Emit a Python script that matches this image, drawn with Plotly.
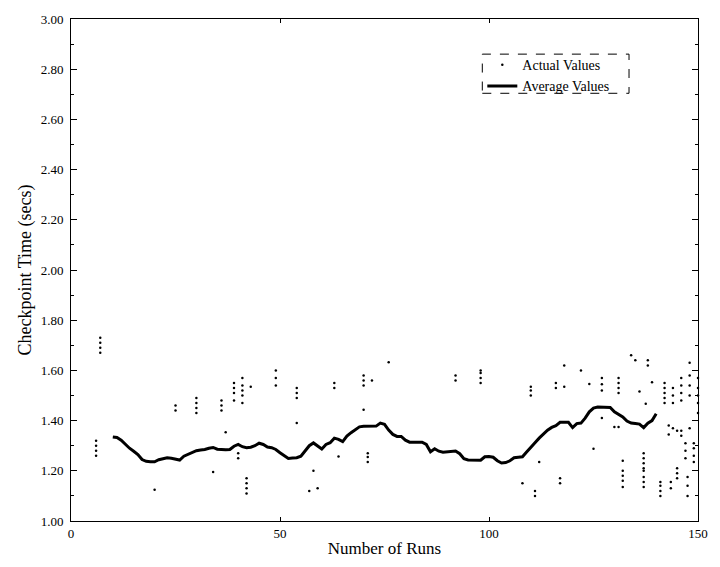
import plotly.graph_objects as go

# Average values (moving average), runs 10..140
avg_runs = list(range(10, 141))
avg_values = [
    1.335, 1.333, 1.322, 1.305, 1.290, 1.278, 1.265, 1.245, 1.238, 1.236, 1.236,
    1.244, 1.249, 1.252, 1.250, 1.245, 1.243, 1.258, 1.265, 1.270, 1.280,
    1.283, 1.285, 1.290, 1.293, 1.286, 1.284, 1.284, 1.285, 1.298, 1.305,
    1.296, 1.292, 1.294, 1.300, 1.310, 1.305, 1.295, 1.292, 1.285, 1.272,
    1.260, 1.249, 1.251, 1.252, 1.258, 1.278, 1.300, 1.311, 1.298, 1.287,
    1.305, 1.312, 1.330, 1.325, 1.316, 1.338, 1.352, 1.362, 1.375, 1.377,
    1.377, 1.377, 1.378, 1.390, 1.385, 1.362, 1.345, 1.337, 1.337, 1.322,
    1.314, 1.314, 1.314, 1.314, 1.305, 1.276, 1.288, 1.278, 1.274, 1.275,
    1.277, 1.279, 1.268, 1.248, 1.243, 1.242, 1.242, 1.242, 1.256, 1.257,
    1.254, 1.240, 1.231, 1.233, 1.240, 1.252, 1.254, 1.256, 1.275, 1.295,
    1.312, 1.330, 1.348, 1.362, 1.373, 1.380, 1.393, 1.394, 1.393, 1.372,
    1.388, 1.390, 1.410, 1.435, 1.450, 1.454, 1.454, 1.454, 1.452, 1.435,
    1.425, 1.415, 1.398, 1.390, 1.388, 1.386, 1.372, 1.390, 1.400, 1.427,
]

# Actual values: visible measurement dots (run, seconds)
actual_runs = [
    6, 6, 6, 6,
    7, 7, 7, 7,
    20, 25, 25,
    30, 30, 30, 30,
    34, 36, 36, 36, 37,
    39, 39, 39, 39, 40, 40,
    41, 41, 41, 41, 41,
    42, 42, 42, 42, 43,
    49, 49, 49,
    54, 54, 54, 54,
    57, 58, 59, 63, 63, 64,
    70, 70, 70, 70, 71, 71, 71, 72, 76,
    92, 92,
    98, 98, 98, 98,
    108, 110, 110, 110, 111, 111, 112,
    116, 116, 117, 117, 118, 118, 122, 124, 125,
    127, 127, 127, 127,
    130, 131, 131, 131, 131, 131,
    132, 132, 132, 132, 132,
    134, 135, 136,
    137, 137, 137, 137, 137, 137, 137, 137, 137.5,
    138, 138, 139,
    141, 141, 141, 141,
    142, 142, 142, 142, 142,
    143, 143, 143.5, 143.5,
    144, 144, 144, 144,
    145, 145, 145, 145,
    146, 146, 146, 146, 146, 146,
    147, 147, 147, 147.5, 147.5, 147.5,
    148, 148, 148, 148, 148,
    149, 149, 149, 149,
    150, 150, 150, 150, 150,
]
actual_values = [
    1.26, 1.28, 1.30, 1.32,
    1.67, 1.69, 1.71, 1.73,
    1.125, 1.44, 1.46,
    1.43, 1.45, 1.47, 1.49,
    1.195, 1.44, 1.46, 1.48, 1.354,
    1.48, 1.51, 1.53, 1.55, 1.25, 1.27,
    1.47, 1.50, 1.52, 1.54, 1.57,
    1.11, 1.13, 1.15, 1.17, 1.535,
    1.54, 1.57, 1.60,
    1.39, 1.49, 1.51, 1.53,
    1.12, 1.20, 1.13, 1.53, 1.55, 1.257,
    1.443, 1.54, 1.56, 1.58, 1.235, 1.255, 1.27, 1.56, 1.632,
    1.56, 1.58,
    1.55, 1.57, 1.59, 1.60,
    1.15, 1.50, 1.52, 1.535, 1.10, 1.12, 1.235,
    1.53, 1.55, 1.15, 1.17, 1.535, 1.62, 1.60, 1.546, 1.288,
    1.52, 1.545, 1.57, 1.41,
    1.375, 1.51, 1.53, 1.55, 1.57, 1.375,
    1.135, 1.16, 1.18, 1.20, 1.24,
    1.66, 1.64, 1.516,
    1.21, 1.23, 1.25, 1.27, 1.135, 1.155, 1.175, 1.20, 1.467,
    1.62, 1.64, 1.553,
    1.10, 1.12, 1.14, 1.155,
    1.47, 1.49, 1.51, 1.53, 1.55,
    1.345, 1.38, 1.13, 1.155,
    1.37, 1.47, 1.50, 1.53,
    1.17, 1.19, 1.21, 1.36,
    1.34, 1.36, 1.48, 1.51, 1.54, 1.57,
    1.25, 1.28, 1.31, 1.10, 1.14, 1.175,
    1.37, 1.50, 1.54, 1.58, 1.63,
    1.235, 1.26, 1.29, 1.31,
    1.43, 1.47, 1.50, 1.53, 1.57,
]

x_ticks = [0, 50, 100, 150]
y_ticks = [1.0, 1.2, 1.4, 1.6, 1.8, 2.0, 2.2, 2.4, 2.6, 2.8, 3.0]
y_tick_labels = ["1.00", "1.20", "1.40", "1.60", "1.80", "2.00", "2.20", "2.40", "2.60", "2.80", "3.00"]

FONT = "Liberation Serif"

fig = go.Figure()
fig.add_trace(go.Scatter(
    x=actual_runs, y=actual_values, mode="markers", name="Actual Values",
    marker=dict(color="black", size=2.5), cliponaxis=False,
))
fig.add_trace(go.Scatter(
    x=avg_runs, y=avg_values, mode="lines", name="Average Values",
    line=dict(color="black", width=3),
))

fig.update_layout(
    width=720, height=567,
    margin=dict(l=71, r=13, t=18, b=46),
    paper_bgcolor="white", plot_bgcolor="white",
    font=dict(family=FONT, color="black", size=13),
    showlegend=True,
    legend=dict(
        x=0.656, y=0.94, xanchor="left", yanchor="top",
        bgcolor="rgba(0,0,0,0)", borderwidth=0,
        font=dict(family=FONT, size=14, color="black"),
        tracegroupgap=0, itemwidth=30,
    ),
    xaxis=dict(
        range=[0, 150], tickmode="array", tickvals=x_ticks,
        ticktext=[str(v) for v in x_ticks],
        showgrid=False, zeroline=False,
        showline=True, linecolor="black", linewidth=1, mirror="ticks",
        ticks="inside", ticklen=4, tickcolor="black",
        tickfont=dict(family=FONT, size=13),
        title=dict(text="Number of Runs", font=dict(family=FONT, size=17), standoff=2),
    ),
    yaxis=dict(
        range=[1.0, 3.0], tickmode="array", tickvals=y_ticks, ticktext=y_tick_labels,
        showgrid=False, zeroline=False,
        showline=True, linecolor="black", linewidth=1, mirror="ticks",
        ticks="inside", ticklen=6, tickcolor="black",
        tickfont=dict(family=FONT, size=13),
        ticklabelstandoff=4,
        minor=dict(dtick=0.1, ticks="inside", ticklen=3, tickcolor="black"),
        title=dict(text="Checkpoint Time (secs)", font=dict(family=FONT, size=18), standoff=4),
    ),
    shapes=[dict(
        type="rect", xref="paper", yref="paper",
        x0=0.656, x1=0.89, y0=0.852, y1=0.93,
        line=dict(color="black", width=1, dash="dash"),
    )],
)

fig.write_html("out.html")
